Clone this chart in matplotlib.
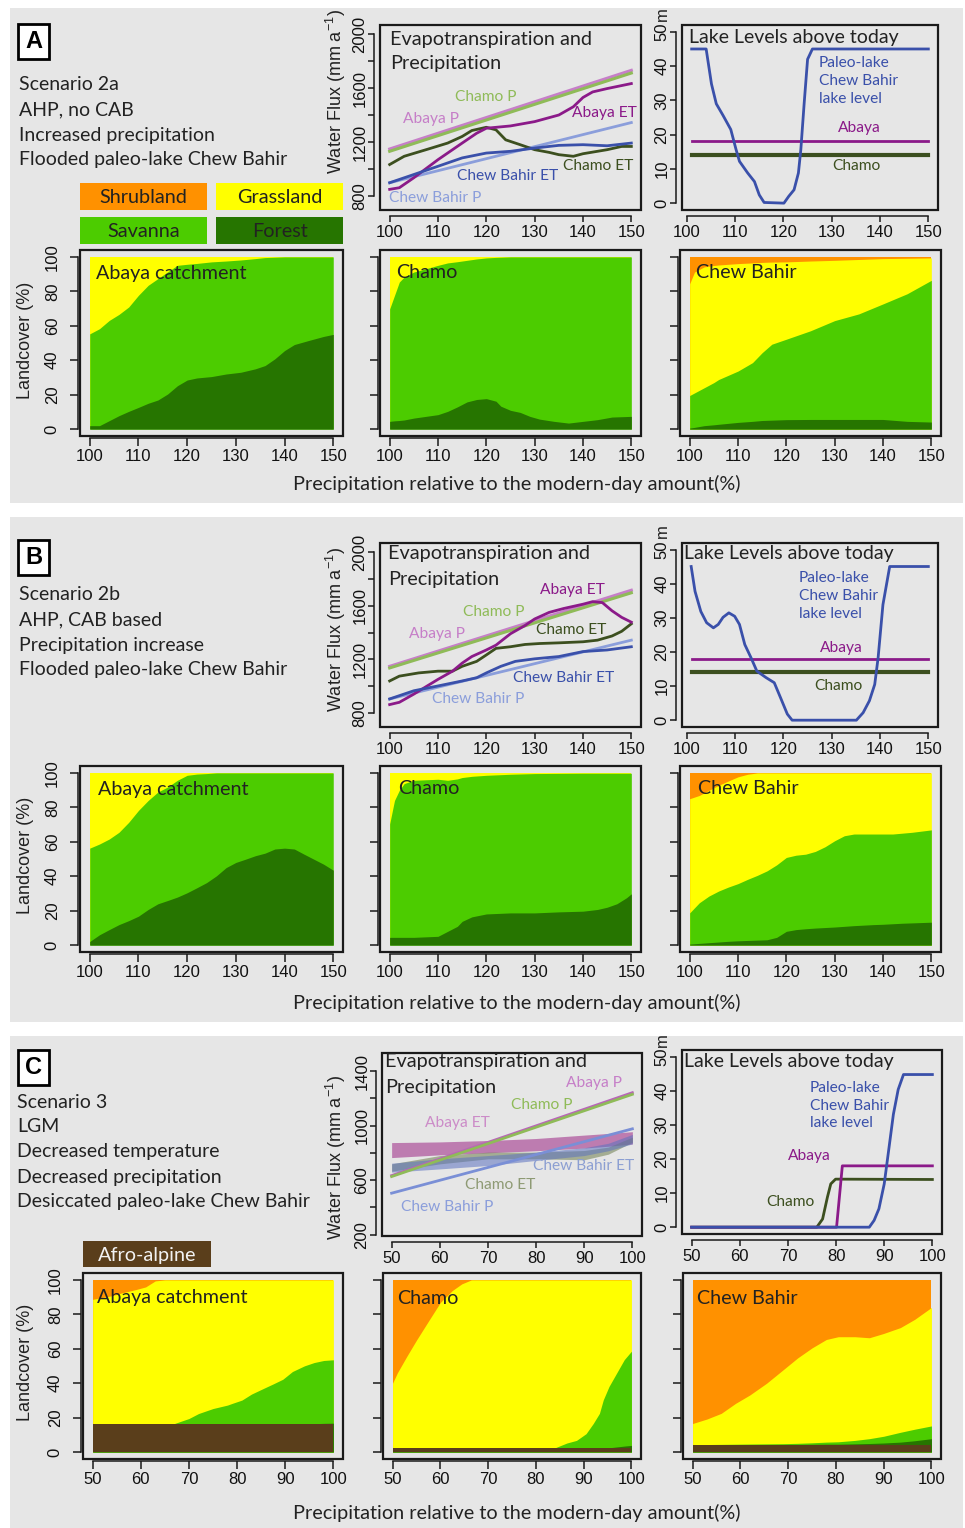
import numpy as np
import matplotlib
matplotlib.use('Agg')
import matplotlib.pyplot as plt
from matplotlib.patches import Rectangle

# ---------------- data ----------------
# Panel A: flux (mm/a) vs precipitation (% of modern)
a_p_x = [100, 150]
a_abaya_p = [1148, 1731]
a_chamo_p = [1131, 1711]
a_chew_p = [898, 1344]
a_abaya_et_x = [100, 102, 105, 110, 115, 118, 120, 125, 130, 135, 138, 140, 142, 145, 150]
a_abaya_et = [849, 861, 935, 1069, 1192, 1265, 1302, 1319, 1351, 1400, 1461, 1530, 1571, 1596, 1633]
a_chamo_et_x = [100, 103, 108, 112, 115, 117, 120, 122, 124, 127, 130, 133, 135, 138, 140, 145, 148, 150]
a_chamo_et = [1033, 1094, 1148, 1192, 1241, 1285, 1309, 1290, 1216, 1180, 1143, 1123, 1106, 1094, 1113, 1143, 1167, 1167]
a_chew_et_x = [100, 105, 110, 115, 120, 125, 130, 135, 140, 145, 150]
a_chew_et = [898, 959, 1020, 1082, 1118, 1131, 1155, 1175, 1180, 1172, 1192]

a_lake_x = [101, 104, 105.1, 106.1, 107.5, 109.1, 110.2, 110.9, 112.6, 114, 115, 116, 120.1, 121.1, 122.2,
            123.1, 123.6, 124.3, 125, 126, 150]
a_lake_chew = [45, 45, 34.8, 29, 25.6, 21.5, 15.6, 12.2, 8.8, 6.3, 2.4, 0.2, 0, 2, 3.9,
               8.8, 15.6, 29.3, 42, 45, 45]
lake_flat_x = [101, 150]
lake_abaya = [18, 18]
lake_chamo = [14, 14]

# Panel A landcover (cumulative upper edges, %)
a_ab_x = [100, 102, 104, 106, 108, 110, 112, 114, 116, 118, 120, 122, 125, 128, 131, 134, 136, 138, 140, 142, 145, 148, 150]
a_ab_forest = [2, 2, 4.9, 7.8, 10.3, 12.6, 15, 16.9, 20.4, 25.2, 28.5, 29.7, 30.5, 32, 33, 35, 36.9, 40.8, 45.6, 49.1, 51.5, 53.8, 55]
a_ab_savanna = [55.3, 58.3, 63.1, 66.6, 70.9, 77.7, 83.5, 87.4, 91.3, 95.1, 95.7, 96.2, 97.1, 97.6, 98.2, 99, 99.6, 99.8, 100, 100, 100, 100, 100]
a_ab_grass = [100] * 23

a_ch_x = [100, 101, 102, 103, 105, 108, 110, 112, 114, 116, 118, 120, 122, 123, 125, 127, 129, 131, 134, 137, 140, 143, 146, 150]
a_ch_forest = [4.5, 4.8, 5, 5.3, 6.4, 7.6, 8.4, 10.3, 12.9, 15.8, 17.2, 17.7, 16.2, 13.3, 10.9, 9.7, 7.4, 5.8, 4.5, 3.5, 4.5, 5.5, 7, 7.4]
a_ch_savanna = [69.8, 77.6, 85.4, 88.3, 91.2, 93.5, 95.1, 96.5, 97.2, 98, 98.8, 99.4, 99.7, 99.8, 100, 100, 100, 100, 100, 100, 100, 100, 100, 100]
a_ch_grass = [100] * 24

a_cb_x = [100, 101, 103, 105, 106, 110, 113, 115, 117, 120, 125, 130, 135, 140, 145, 150]
a_cb_forest = [0.6, 1, 2, 2.5, 2.8, 3.9, 4.5, 5, 5.2, 5.5, 5.6, 5.6, 5.6, 5.6, 4.5, 4.1]
a_cb_savanna = [19.5, 21, 24, 27, 28.8, 33.7, 38.6, 44.4, 49.3, 52.2, 57.1, 63, 66.9, 72.7, 78.6, 86.4]
a_cb_grass = [84.4, 91.2, 94.2, 95, 95.3, 96.1, 96.5, 96.8, 97, 97.1, 97.6, 98, 98.5, 99, 99.2, 99.4]

# Panel B
b_abaya_p = [1148, 1715]
b_chamo_p = [1136, 1696]
b_chew_p = [905, 1343]
b_abaya_et_x = [100, 102, 105, 110, 113, 115, 117, 120, 122, 125, 128, 130, 133, 136, 140, 142, 144, 146, 148, 150]
b_abaya_et = [863, 880, 941, 1051, 1112, 1172, 1221, 1270, 1306, 1391, 1452, 1501, 1550, 1579, 1611, 1630, 1623, 1562, 1513, 1477]
b_chamo_et_x = [100, 102, 106, 110, 113, 115, 118, 120, 122, 125, 128, 131, 135, 140, 143, 146, 148, 150]
b_chamo_et = [1039, 1075, 1099, 1112, 1112, 1148, 1185, 1233, 1282, 1294, 1311, 1318, 1323, 1331, 1343, 1374, 1409, 1465]
b_chew_et_x = [100, 105, 110, 115, 118, 120, 123, 126, 130, 135, 140, 145, 150]
b_chew_et = [905, 966, 1002, 1039, 1063, 1099, 1148, 1185, 1204, 1221, 1258, 1270, 1294]

b_lake_x = [100.9, 101.7, 102.9, 104.1, 105.5, 106.5, 107.5, 108.7, 109.9, 110.9, 112, 113.3, 114.5, 116.4, 118.1,
            119.4, 120.8, 121.8, 135.1, 136.5, 137.8, 138.9, 139.6, 140.6, 142, 150]
b_lake_chew = [45.1, 37.8, 31.9, 28.6, 27.1, 28.1, 30.2, 31.5, 30.5, 28.1, 22.2, 18.3, 14.4, 12.5, 11,
               6.6, 1.8, 0, 0, 2.2, 5.7, 10.5, 18.3, 33.9, 45.1, 45.1]

b_ab_x = list(range(100, 151, 2))
b_ab_forest = [2.1, 6, 9, 11.9, 14.2, 16.8, 20.7, 24, 25.9, 27.9, 30.4, 33.3, 36.3, 40.2, 45, 48, 49.9, 51.9, 53.4, 55.8,
               56.3, 55.8, 52.8, 49.9, 47, 43.5]
b_ab_savanna = [56.3, 58.7, 61.6, 65.5, 71.3, 78.2, 84, 88.9, 91.8, 95.7, 98.6, 99.3, 99.6, 100, 100, 100, 100, 100, 100,
                100, 100, 100, 100, 100, 100, 100]
b_ab_grass = [100] * 26

b_ch_x = [100, 101, 102, 103, 105, 110, 112, 114, 115, 117, 120, 125, 130, 135, 140, 143, 145, 147, 149, 150]
b_ch_forest = [4.5, 4.5, 4.5, 4.5, 4.5, 5.1, 8, 10.9, 13.8, 16.4, 18.1, 18.7, 18.7, 19.3, 19.7, 20.7, 22, 24, 27.5, 29.8]
b_ch_savanna = [70.4, 84, 89.9, 93.8, 95.7, 96.3, 95.7, 96.5, 97.3, 98, 98.6, 99.2, 99.6, 99.7, 99.8, 99.8, 99.8, 99.8, 99.8, 99.8]
b_ch_grass = [100] * 20

b_cb_x = list(range(100, 151, 2))
b_cb_forest = [0.6, 1, 1.4, 1.8, 2.2, 2.5, 2.7, 2.9, 3.1, 4.5, 8, 9, 9.5, 9.9, 10.2, 10.5, 10.9, 11.3, 11.6, 11.9,
               12.1, 12.4, 12.7, 12.9, 13.1, 13.3]
b_cb_savanna = [18.7, 24.6, 28.5, 31.4, 33.7, 35.7, 38.2, 40.5, 43.1, 46.6, 50.9, 52.2, 52.8, 54.4, 57.1, 60.6, 63.5,
                64.5, 64.5, 64.5, 64.5, 64.5, 65, 65.5, 66.2, 66.9]
b_cb_grass = [85, 86.9, 89.9, 92.8, 95.3, 97.7, 99.2, 100, 100, 100, 100, 100, 100, 100, 100, 100, 100, 100, 100, 100,
              100, 100, 100, 100, 100, 100]

# Panel C
c_p_x = [50, 100]
c_abaya_p = [633, 1241]
c_chamo_p = [626, 1229]
c_chew_p = [504, 976]
c_et_x = [50, 60, 70, 80, 90, 95, 100]
c_abaya_et_hi = [875, 880, 890, 905, 930, 942, 955]
c_abaya_et_lo = [765, 785, 800, 815, 835, 848, 865]
c_chamo_et_hi = [719, 780, 805, 805, 817, 842, 915]
c_chamo_et_lo = [665, 719, 756, 756, 749, 790, 878]
c_chew_et_hi = [724, 756, 780, 805, 837, 870, 935]
c_chew_et_lo = [658, 682, 707, 744, 780, 815, 866]

c_lake_chamo_x = [50, 76, 77.2, 78.2, 78.9, 79.9, 100]
c_lake_chamo = [0, 0, 2.4, 8.8, 12.7, 14.1, 14]
c_lake_abaya_x = [50, 80.1, 81.3, 100]
c_lake_abaya = [0, 0, 18, 18]
c_lake_chew_x = [50, 86.9, 87.9, 88.9, 90, 91, 91.9, 92.9, 94, 100]
c_lake_chew = [0, 0, 2, 5.4, 12.7, 23.4, 33.1, 40.4, 44.8, 44.8]

c_ab_x = [50, 52, 54, 56, 59, 61, 63, 65, 67, 70, 72, 75, 78, 79, 81, 83, 85.5, 87.5, 89.5, 91.5, 94, 96, 98, 100]
c_ab_alpine = [16.2] * 24
c_ab_forest = [16.2] * 20 + [16.3, 16.5, 16.7, 16.8]
c_ab_savanna = [16.2, 16.2, 16.2, 16.2, 16.2, 16.2, 16.2, 16.2, 16.6, 19.5, 22.4, 25.3, 27.3, 28.3, 30.2, 33.7, 37,
                39.6, 42.3, 46.8, 50.1, 52, 53.2, 53.6]
c_ab_grass = [88.7, 89.8, 90.8, 92.4, 94.4, 95.9, 99.4, 100] + [100] * 16

c_ch_x = [50, 51, 53, 55, 57.5, 60, 62.5, 64.5, 66.5, 70, 80, 84, 86.5, 88.5, 90.5, 92, 93.3, 94.1, 95.3, 96.9, 98.5, 100]
c_ch_alpine = [2.5] * 22
c_ch_forest = [2.5] * 19 + [3.0, 3.5, 3.9]
c_ch_savanna = [2.5] * 12 + [5.3, 6.8, 10.7, 16.6, 22.5, 30.3, 38.1, 45.9, 53.7, 58.6]
c_ch_grass = [40, 46, 55.7, 65, 76, 86.9, 93.8, 97.7, 100] + [100] * 13

c_cb_x = [50, 53, 56, 59, 62, 65.5, 69, 72, 75, 78, 80.5, 84, 87, 90, 93.5, 96.5, 100]
c_cb_alpine = [4] * 17
c_cb_forest = [4.1, 4.1, 4.2, 4.2, 4.3, 4.3, 4.3, 4.4, 4.5, 4.6, 4.6, 4.8, 5, 5.3, 5.8, 6.6, 7.8]
c_cb_savanna = [4.3, 4.4, 4.5, 4.6, 4.7, 4.8, 4.9, 5.1, 5.4, 5.8, 6, 6.8, 7.8, 9.2, 11.5, 13.3, 15.2]
c_cb_grass = [16.6, 19.2, 22.5, 28.3, 33.2, 40, 47.9, 54.7, 60.5, 65.4, 67, 67, 66.4, 68.9, 72.3, 77.1, 84]

# ---------------- style ----------------
W, H = 965, 1528
TXT = 'Lato'
NUM = 'Liberation Sans'
PANEL = '#e6e6e6'
INK = '#222222'
SHRUB, GRASS, SAV, FOREST, ALPINE = '#ff9100', '#ffff00', '#4ccc00', '#267500', '#5a3e1b'
AB_P, CH_P, CB_P = '#c67fc8', '#8fbb58', '#8b9edb'
AB_ET, CH_ET, CB_ET = '#8b1a89', '#3c4f1f', '#3a50aa'

plt.rcParams['font.family'] = NUM
plt.rcParams['mathtext.default'] = 'regular'

fig = plt.figure(figsize=(W / 100, H / 100), dpi=100)
fig.patch.set_facecolor('white')


def fx(x):
    return x / W


def fy(y):
    return 1 - y / H


def fig_box(x0, y0, x1, y1, **kw):
    fig.patches.append(Rectangle((fx(x0), fy(y1)), (x1 - x0) / W, (y1 - y0) / H,
                                 transform=fig.transFigure, **kw))


def ftext(x, y, s, **kw):
    kw.setdefault('family', TXT)
    kw.setdefault('color', INK)
    kw.setdefault('va', 'center')
    fig.text(fx(x), fy(y), s, **kw)


def make_ax(box, xlim, ylim, xticks, yticks, ylabels=None, off=4.0, tlen=4, ypad=1, xpad=3):
    x0, y0, x1, y1 = box
    ax = fig.add_axes([fx(x0), fy(y1), (x1 - x0) / W, (y1 - y0) / H])
    ax.set_xlim(xlim)
    ax.set_ylim(ylim)
    ax.patch.set_visible(False)
    ax.spines['top'].set_visible(False)
    ax.spines['right'].set_visible(False)
    for side in ['left', 'bottom']:
        ax.spines[side].set_position(('outward', off))
        ax.spines[side].set_linewidth(1.1)
        ax.spines[side].set_color('#1a1a1a')
    ax.spines['left'].set_bounds(yticks[0], yticks[-1])
    ax.spines['bottom'].set_bounds(xticks[0], xticks[-1])
    ax.set_xticks(xticks)
    ax.set_xticklabels([str(v) for v in xticks])
    ax.set_yticks(yticks)
    if ylabels is None:
        ylabels = [str(v) for v in yticks]
    ax.set_yticklabels(ylabels, rotation=90, va='center')
    ax.tick_params(length=tlen, width=1.1, labelsize=12, color='#1a1a1a', labelcolor='#111111')
    ax.tick_params(axis='y', pad=ypad)
    ax.tick_params(axis='x', pad=xpad)
    ax.add_patch(Rectangle((0, 0), 1, 1, transform=ax.transAxes, fill=False, lw=1.6,
                           ec='#1a1a1a', clip_on=False, zorder=5))
    return ax


def lc_ax(box, xlim, xticks, first):
    lc_ticks = [0, 20, 40, 60, 80, 100]
    labs = [str(v) for v in lc_ticks] if first else [''] * 6
    return make_ax(box, xlim, (-4, 104), xticks, lc_ticks, labs,
                   off=1.5, tlen=5.5, ypad=7.5, xpad=2.5)


def landcover(ax, x, layers):
    # layers: list of (upper edge, colour) from bottom to top; draw top first to avoid seams
    ax.fill_between(x, 0, 100, color=SHRUB, lw=0)
    for top, col in reversed(layers):
        ax.fill_between(x, 0, top, color=col, lw=0)


# gray panels
for (y0, y1) in [(8, 503), (517, 1022), (1036, 1528)]:
    fig_box(10, y0, 963, y1, facecolor=PANEL, edgecolor='none', zorder=-10)

# panel letters
for letter, y0 in [('A', 24), ('B', 540), ('C', 1050)]:
    fig_box(18, y0, 49, y0 + 35, facecolor='white', edgecolor='black', lw=2)
    ftext(33.5, y0 + 18, letter, family=NUM, weight='bold', size=17, ha='center', color='black')

# scenario text
scen = [
    (19, 85, ["Scenario 2a", "AHP, no CAB", "Increased precipitation", "Flooded paleo-lake Chew Bahir"]),
    (19, 595, ["Scenario 2b", "AHP, CAB based", "Precipitation increase", "Flooded paleo-lake Chew Bahir"]),
    (17, 1102, ["Scenario 3", "LGM", "Decreased temperature", "Decreased precipitation",
                "Desiccated paleo-lake Chew Bahir"]),
]
SZ = 14
for x0, y0, lines in scen:
    for i, s in enumerate(lines):
        ftext(x0, y0 + 25 * i, s, size=SZ)

# legend boxes
for (x0, y0, x1, y1, col, lab, tc) in [
        (80, 183, 207, 210, SHRUB, 'Shrubland', INK), (216, 183, 343, 210, GRASS, 'Grassland', INK),
        (80, 217, 207, 244, SAV, 'Savanna', INK), (216, 217, 343, 244, FOREST, 'Forest', INK),
        (83, 1241, 211, 1267, ALPINE, 'Afro-alpine', '#f2f2f2')]:
    fig_box(x0, y0, x1, y1, facecolor=col, edgecolor='none')
    ftext((x0 + x1) / 2, (y0 + y1) / 2 + 1, lab, size=14.3, ha='center', color=tc)

# axis titles
for yc, xl_y, lc_y, m_y in [(92, 484, 340, 14), (630, 1003, 855, 531), (1158, 1513, 1362, 1040)]:
    ftext(336, yc, 'Water Flux (mm a$^{-1}$)', family=NUM, size=13, rotation=90, ha='center')
    ftext(26, lc_y, 'Landcover (%)', family=NUM, size=13, rotation=90, ha='center')
    ftext(517, xl_y, 'Precipitation relative to the modern-day amount(%)', size=14.3, ha='center')
    ftext(662, m_y, 'm', family=NUM, size=12, rotation=90, ha='center')

flux_ticks = [800, 1000, 1200, 1400, 1600, 1800, 2000]
flux_labs = ['800', '', '1200', '', '1600', '', '2000']
x100 = [100, 110, 120, 130, 140, 150]
x50 = [50, 60, 70, 80, 90, 100]
lake_ticks = [0, 10, 20, 30, 40, 50]
cols = [(80, 343), (380, 641), (680, 941)]
names = ['Abaya catchment', 'Chamo', 'Chew Bahir']


def flux_title(x, y):
    ftext(x, y, 'Evapotranspiration and', size=14.3)
    ftext(x, y + 25, 'Precipitation', size=14.3)


LBL = 11.2


def label(ax, x, y, s, c, size=LBL, ha='center'):
    ax.text(x, y, s, color=c, family=TXT, size=size, ha=ha, va='center')


def lake_label(ax, x, y):
    ax.text(x, y, 'Paleo-lake\nChew Bahir\nlake level', color=CB_ET, family=TXT, size=LBL,
            va='top', linespacing=1.35)


# ---------------- Panel A ----------------
ax = make_ax((380, 25, 641, 210), (98, 152), (696, 2067), x100, flux_ticks, flux_labs)
ax.plot(a_p_x, a_abaya_p, color=AB_P, lw=2.2)
ax.plot(a_p_x, a_chamo_p, color=CH_P, lw=2.2)
ax.plot(a_p_x, a_chew_p, color=CB_P, lw=2)
ax.plot(a_chamo_et_x, a_chamo_et, color=CH_ET, lw=2)
ax.plot(a_abaya_et_x, a_abaya_et, color=AB_ET, lw=2)
ax.plot(a_chew_et_x, a_chew_et, color=CB_ET, lw=2)
label(ax, 119.9, 1530, 'Chamo P', CH_P)
label(ax, 108.5, 1368, 'Abaya P', AB_P)
label(ax, 144.4, 1417, 'Abaya ET', AB_ET)
label(ax, 143.2, 1020, 'Chamo ET', CH_ET)
label(ax, 124.4, 947, 'Chew Bahir ET', CB_ET)
label(ax, 109.5, 788, 'Chew Bahir P', CB_P)
flux_title(390, 39)

ax = make_ax((682, 25, 938, 210), (99, 152), (-2, 52), x100, lake_ticks)
ax.plot(lake_flat_x, lake_chamo, color=CH_ET, lw=3)
ax.plot(lake_flat_x, lake_abaya, color=AB_ET, lw=2)
ax.plot(a_lake_x, a_lake_chew, color=CB_ET, lw=2)
lake_label(ax, 127.3, 43)
label(ax, 135.8, 22, 'Abaya', AB_ET)
label(ax, 135, 10.7, 'Chamo', CH_ET)
ftext(689, 37, 'Lake Levels above today', size=SZ)

for i, ((x0, x1), x, f, s, g) in enumerate(zip(cols, [a_ab_x, a_ch_x, a_cb_x],
                                               [a_ab_forest, a_ch_forest, a_cb_forest],
                                               [a_ab_savanna, a_ch_savanna, a_cb_savanna],
                                               [a_ab_grass, a_ch_grass, a_cb_grass])):
    ax = lc_ax((x0, 250, x1, 436), (98, 152), x100, i == 0)
    landcover(ax, x, [(f, FOREST), (s, SAV), (g, GRASS)])
    ftext(x0 + 16, 273, names[i], size=14.2)

# ---------------- Panel B ----------------
ax = make_ax((380, 543, 641, 727), (98, 152), (696, 2067), x100, flux_ticks, flux_labs)
ax.plot(a_p_x, b_abaya_p, color=AB_P, lw=2.2)
ax.plot(a_p_x, b_chamo_p, color=CH_P, lw=2.2)
ax.plot(a_p_x, b_chew_p, color=CB_P, lw=2)
ax.plot(b_chamo_et_x, b_chamo_et, color=CH_ET, lw=2)
ax.plot(b_abaya_et_x, b_abaya_et, color=AB_ET, lw=2)
ax.plot(b_chew_et_x, b_chew_et, color=CB_ET, lw=2)
label(ax, 137.8, 1720, 'Abaya ET', AB_ET)
label(ax, 121.5, 1550, 'Chamo P', CH_P)
label(ax, 137.5, 1416, 'Chamo ET', CH_ET)
label(ax, 109.7, 1391, 'Abaya P', AB_P)
label(ax, 136, 1063, 'Chew Bahir ET', CB_ET)
label(ax, 118.4, 905, 'Chew Bahir P', CB_P)
flux_title(388, 554)

ax = make_ax((682, 543, 938, 727), (99, 152), (-2, 52), x100, lake_ticks)
ax.plot(lake_flat_x, lake_chamo, color=CH_ET, lw=3)
ax.plot(lake_flat_x, lake_abaya, color=AB_ET, lw=2)
ax.plot(b_lake_x, b_lake_chew, color=CB_ET, lw=2)
lake_label(ax, 123.2, 43.7)
label(ax, 132, 21.2, 'Abaya', AB_ET)
label(ax, 131.4, 10, 'Chamo', CH_ET)
ftext(684, 553, 'Lake Levels above today', size=SZ)

for i, ((x0, x1), x, f, s, g) in enumerate(zip(cols, [b_ab_x, b_ch_x, b_cb_x],
                                               [b_ab_forest, b_ch_forest, b_cb_forest],
                                               [b_ab_savanna, b_ch_savanna, b_cb_savanna],
                                               [b_ab_grass, b_ch_grass, b_cb_grass])):
    ax = lc_ax((x0, 766, x1, 952), (98, 152), x100, i == 0)
    landcover(ax, x, [(f, FOREST), (s, SAV), (g, GRASS)])
    ftext(x0 + 18, 789, names[i], size=14.2)

# ---------------- Panel C ----------------
c_ticks = [200, 400, 600, 800, 1000, 1200, 1400]
c_labs = ['200', '', '600', '', '1000', '', '1400']
ax = make_ax((382, 1053, 642, 1236), (48, 102), (190, 1532), x50, c_ticks, c_labs)
ax.fill_between(c_et_x, c_abaya_et_lo, c_abaya_et_hi, color='#b0599f', alpha=0.75, lw=0)
ax.fill_between(c_et_x, c_chamo_et_lo, c_chamo_et_hi, color='#6f7f4f', alpha=0.55, lw=0)
ax.fill_between(c_et_x, c_chew_et_lo, c_chew_et_hi, color='#5c72c0', alpha=0.55, lw=0)
ax.plot(c_p_x, c_abaya_p, color='#b865b8', lw=2)
ax.plot(c_p_x, c_chamo_p, color=CH_P, lw=2)
ax.plot(c_p_x, c_chew_p, color='#7a8fd6', lw=2)
label(ax, 92, 1312, 'Abaya P', '#c67fc8')
label(ax, 81.1, 1153, 'Chamo P', CH_P)
label(ax, 63.6, 1018, 'Abaya ET', '#cc8cc8')
label(ax, 89.8, 700, 'Chew Bahir ET', '#8c9fd2')
label(ax, 72.6, 567, 'Chamo ET', '#8e9a74')
label(ax, 61.6, 406, 'Chew Bahir P', '#8b9edb')
flux_title(385, 1062)

ax = make_ax((682, 1050, 942, 1234), (48, 102), (-2, 52), x50, lake_ticks)
ax.plot(c_lake_chamo_x, c_lake_chamo, color=CH_ET, lw=2)
ax.plot(c_lake_abaya_x, c_lake_abaya, color=AB_ET, lw=2)
ax.plot(c_lake_chew_x, c_lake_chew, color=CB_ET, lw=2)
lake_label(ax, 74.6, 43)
label(ax, 74.4, 21, 'Abaya', AB_ET)
label(ax, 70.5, 7.3, 'Chamo', CH_ET)
ftext(684, 1061, 'Lake Levels above today', size=SZ)

for i, ((x0, x1), x, al, f, s, g) in enumerate(zip(cols, [c_ab_x, c_ch_x, c_cb_x],
                                                   [c_ab_alpine, c_ch_alpine, c_cb_alpine],
                                                   [c_ab_forest, c_ch_forest, c_cb_forest],
                                                   [c_ab_savanna, c_ch_savanna, c_cb_savanna],
                                                   [c_ab_grass, c_ch_grass, c_cb_grass])):
    ax = lc_ax((x0 + 3, 1273, x1, 1459), (48, 102), x50, i == 0)
    landcover(ax, x, [(al, ALPINE), (f, FOREST), (s, SAV), (g, GRASS)])
    ftext(x0 + 17, 1298, names[i], size=14.2)

fig.savefig('out.png', dpi=100)
